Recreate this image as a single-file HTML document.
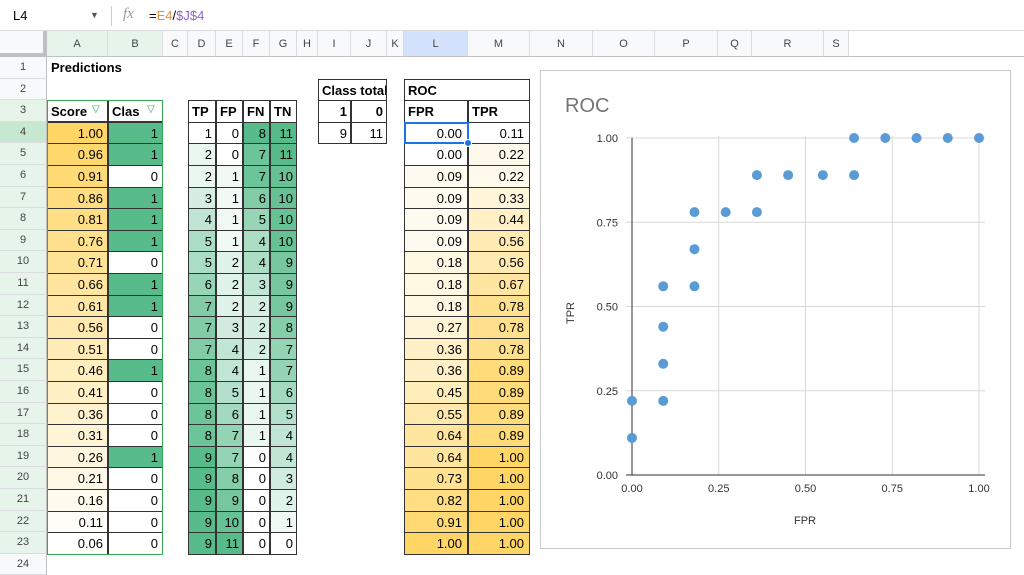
<!DOCTYPE html>
<html><head><meta charset="utf-8">
<style>
body{margin:0;width:1024px;height:562px;overflow:hidden;background:#fff;font-family:"Liberation Sans",Arial,sans-serif;position:relative}
.c{position:absolute;box-sizing:border-box;font-size:13px;line-height:21px;white-space:nowrap;overflow:hidden}
.gl{position:absolute;background:#e2e3e3}
</style></head><body>
<div class="c" style="left:0;top:0;width:1024px;height:31px;border-bottom:1px solid #dadce0;background:#fff">
 <span style="position:absolute;left:13px;top:5px;font-size:13px">L4</span>
 <span style="position:absolute;left:90px;top:5px;font-size:9px;color:#555">▼</span>
 <span style="position:absolute;left:111px;top:6px;width:1px;height:20px;background:#ccc"></span>
 <span style="position:absolute;left:123px;top:4px;font-style:italic;color:#999;font-family:'Liberation Serif',serif;font-size:15px">fx</span>
 <span style="position:absolute;left:149px;top:5px;font-size:13px">=<span style="color:#e69138">E4</span>/<span style="color:#8e63ce">$J$4</span></span>
</div>
<div id="sheet"></div>
<svg id="chart" style="position:absolute;left:540px;top:70px" width="471" height="479"></svg>
<script>
const scores=[1.00,0.96,0.91,0.86,0.81,0.76,0.71,0.66,0.61,0.56,0.51,0.46,0.41,0.36,0.31,0.26,0.21,0.16,0.11,0.06];
const classes=[1,1,0,1,1,1,0,1,1,0,0,1,0,0,0,1,0,0,0,0];
const TP=[1,2,2,3,4,5,5,6,7,7,7,8,8,8,8,9,9,9,9,9];
const FP=[0,0,1,1,1,1,2,2,2,3,4,4,5,6,7,7,8,9,10,11];
const FN=[8,7,7,6,5,4,4,3,2,2,2,1,1,1,1,0,0,0,0,0];
const TN=[11,11,10,10,10,10,9,9,9,8,7,7,6,5,4,4,3,2,1,0];
const fpr=[0,0,0.09,0.09,0.09,0.09,0.18,0.18,0.18,0.27,0.36,0.36,0.45,0.55,0.64,0.64,0.73,0.82,0.91,1.00];
const tpr=[0.11,0.22,0.22,0.33,0.44,0.56,0.56,0.67,0.78,0.78,0.78,0.89,0.89,0.89,0.89,1,1,1,1,1];
const xTicks=["0.00","0.25","0.50","0.75","1.00"];
const yTicks=["0.00","0.25","0.50","0.75","1.00"];

const colX=[47,108,163,188,216,243,270,297,318,351,387,404,468,530,593,655,718,752,824,849,1024];
const colN="ABCDEFGHIJKLMNOPQRS".split("");
const top0=57,rh=21.6;
const S=document.getElementById('sheet');
function el(x,y,w,h,css,txt,name,inter){const d=document.createElement('div');d.className='c';d.style.cssText=`left:${x}px;top:${y}px;width:${w}px;height:${h}px;`+css;if(txt!==undefined)d.textContent=txt;


S.appendChild(d);return d;}
function mix(hex,t){const r=parseInt(hex.substr(1,2),16),g=parseInt(hex.substr(3,2),16),b=parseInt(hex.substr(5,2),16);return `rgb(${Math.round(255+(r-255)*t)},${Math.round(255+(g-255)*t)},${Math.round(255+(b-255)*t)})`;}
function ry(r){return top0+(r-1)*rh;}
function cx(i){return colX[i];} function cw(i){return colX[i+1]-colX[i];}
// column headers
el(0,31,47,26,'background:#f8f9fa;border-right:4px solid #c0c0c0;border-bottom:4px solid #c0c0c0','', 'select-all-corner',true);
colN.forEach((n,i)=>{let bg=i<2?'#e6f4ea':(n==='L'?'#d3e3fd':'#f8f9fa');
 el(cx(i),31,cw(i),26,`background:${bg};text-align:center;color:#444;font-size:11px;line-height:26px;border-right:1px solid #dadce0;border-bottom:1px solid #c0c0c0`,n,'column-header-'+n.toLowerCase(),true);});
el(849,31,175,26,'background:#fff;border-bottom:1px solid #c0c0c0','', 'header-fill',false);
// row headers
for(let r=1;r<=24;r++){let bg=r<3||r>23?'#f8f9fa':(r===4?'#c6e7d0':'#e6f4ea');
 el(0,ry(r),47,rh,`background:${bg};text-align:center;color:#444;font-size:11px;line-height:${rh}px;border-bottom:1px solid #dadce0;border-right:1px solid #c0c0c0`,String(r),'row-header-'+r,true);}
el(47,ry(1),120,rh,'font-weight:bold;padding-left:4px;line-height:22px','Predictions','predictions-title',false);
const B='border:1px solid #333;';
// score/class headers
el(cx(0),ry(3),cw(0),rh,B+'background:#fff;font-weight:bold;padding-left:3px;line-height:21px','Score','score-header',true);
el(cx(0)+45,ry(3),14,rh,'color:#34a853;font-size:10px;line-height:19px','▽','score-filter-icon',true);
el(cx(1),ry(3),cw(1),rh,B+'background:#fff;font-weight:bold;padding-left:3px;line-height:21px','Clas','class-header',true);
el(cx(1)+39,ry(3),14,rh,'color:#34a853;font-size:10px;line-height:19px','▽','class-filter-icon',true);
const smin=Math.min(...scores),smax=Math.max(...scores);
for(let i=0;i<20;i++){const r=4+i;
 el(cx(0),ry(r),cw(0),rh+1,B+`background:${mix('#ffd666',(scores[i]-smin)/(smax-smin))};text-align:right;padding-right:4px`,scores[i].toFixed(2),'score-cell',true);
 el(cx(1),ry(r),cw(1),rh+1,B+`background:${classes[i]?'#57bb8a':'#fff'};text-align:right;padding-right:4px`,String(classes[i]),'class-cell',true);}
el(cx(0),ry(3),cx(2)-cx(0),ry(24)-ry(3)+1,'border:1px solid #34a853','', 'filter-range-border',false);
// confusion table
[["TP",TP],["FP",FP],["FN",FN],["TN",TN]].forEach(([h,a],k)=>{const i=3+k;const mn=Math.min(...a),mx=Math.max(...a);
 el(cx(i),ry(3),cw(i),rh+1,B+'background:#fff;font-weight:bold;padding-left:3px',h,h.toLowerCase()+'-header',true);
 for(let j=0;j<20;j++) el(cx(i),ry(4+j),cw(i),rh+1,B+`background:${mix('#57bb8a',(a[j]-mn)/(mx-mn))};text-align:right;padding-right:3px`,String(a[j]),h.toLowerCase()+'-cell',true);});
// class total
el(cx(8),ry(2),cx(10)-cx(8),rh+1,B+'background:#fff;font-weight:bold;padding-left:3px','Class total','class-total-header',true);
el(cx(8),ry(3),cw(8),rh+1,B+'background:#fff;font-weight:bold;text-align:right;padding-right:3px','1','class-1-header',true);
el(cx(9),ry(3),cw(9),rh+1,B+'background:#fff;font-weight:bold;text-align:right;padding-right:3px','0','class-0-header',true);
el(cx(8),ry(4),cw(8),rh+1,B+'background:#fff;text-align:right;padding-right:3px','9','class-1-total',true);
el(cx(9),ry(4),cw(9),rh+1,B+'background:#fff;text-align:right;padding-right:3px','11','class-0-total',true);
// ROC table
el(cx(11),ry(2),cx(13)-cx(11),rh+1,B+'background:#fff;font-weight:bold;padding-left:3px','ROC','roc-table-header',true);
el(cx(11),ry(3),cw(11),rh+1,B+'background:#fff;font-weight:bold;padding-left:3px','FPR','fpr-header',true);
el(cx(12),ry(3),cw(12),rh+1,B+'background:#fff;font-weight:bold;padding-left:3px','TPR','tpr-header',true);
const tmin=Math.min(...tpr);
for(let j=0;j<20;j++){
 el(cx(11),ry(4+j),cw(11),rh+1,B+`background:${mix('#ffd666',fpr[j])};text-align:right;padding-right:5px`,fpr[j].toFixed(2),'fpr-cell',true);
 el(cx(12),ry(4+j),cw(12),rh+1,B+`background:${mix('#ffd666',(tpr[j]-tmin)/(1-tmin))};text-align:right;padding-right:5px`,tpr[j].toFixed(2),'tpr-cell',true);}
el(cx(11),ry(4),cw(11)+1,rh+1,'border:2px solid #1a73e8','', 'selected-cell-l4',true);
el(cx(12)-4,ry(5)-4,8,8,'background:#1a73e8;border:1px solid #fff;border-radius:50%','', 'fill-handle',true);

// chart
const svg=document.getElementById('chart'),NS='http://www.w3.org/2000/svg';
function s(tag,at,name,txt){const e=document.createElementNS(NS,tag);for(const k in at)e.setAttribute(k,at[k]);


if(txt!==undefined)e.textContent=txt;svg.appendChild(e);return e;}
const X0=92,X1=439,Y0=405,Y1=68;
const xs=v=>X0+(X1-X0)*v, ys=v=>Y0-(Y0-Y1)*v;
s('rect',{x:0.5,y:0.5,width:470,height:478,fill:'#fff',stroke:'#c8c8c8'},'chart-border');
s('text',{x:25,y:42,'font-size':20,fill:'#757575','font-family':'Liberation Sans'},'chart-title','ROC');
yTicks.forEach(t=>{const v=parseFloat(t);
 s('line',{x1:X0-6,x2:X1+6,y1:ys(v),y2:ys(v),stroke:'#d9d9d9'},'y-gridline');
 s('text',{x:X0-14,y:ys(v)+4,'font-size':11,'text-anchor':'end',fill:'#333','font-family':'Liberation Sans'},'y-tick-label',t);});
xTicks.forEach(t=>{const v=parseFloat(t);
 s('line',{x1:xs(v),x2:xs(v),y1:Y1-2,y2:Y0,stroke:'#d9d9d9'},'x-gridline');
 s('text',{x:xs(v),y:Y0+17,'font-size':11,'text-anchor':'middle',fill:'#333','font-family':'Liberation Sans'},'x-tick-label',t);});
s('line',{x1:X0-6,x2:X1+6,y1:Y0,y2:Y0,stroke:'#595959','stroke-width':1.2},'x-axis-line');
s('line',{x1:X0,x2:X0,y1:Y1,y2:Y0,stroke:'#333','stroke-width':1},'y-axis-line');
s('text',{x:265,y:454,'font-size':11,'text-anchor':'middle',fill:'#333','font-family':'Liberation Sans'},'x-axis-title','FPR');
s('text',{x:34,y:243,'font-size':11,'text-anchor':'middle',fill:'#333','font-family':'Liberation Sans',transform:'rotate(-90 34 243)'},'y-axis-title','TPR');
for(let i=0;i<fpr.length;i++) s('circle',{cx:xs(fpr[i]),cy:ys(tpr[i]),r:5,fill:'#5b9bd5'},'roc-point');
</script>
</body></html>
